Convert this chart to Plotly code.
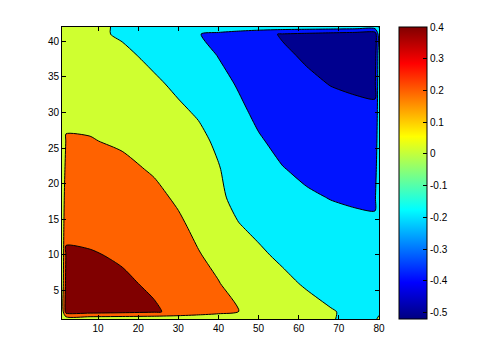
import plotly.graph_objects as go

# Grid coordinates
x_vals = [1, 2, 8, 16, 24, 30, 35, 40, 45, 50, 56, 62, 68, 74, 79, 80]
y_vals = [1, 2, 6, 10, 14, 18, 22, 26, 30, 34, 38, 41, 42]

# Field values, one row per y value
z_y1 = [0.02, 0.072, 0.07, 0.067, 0.062, 0.055, 0.047, 0.039, 0.03, 0.024, 0.016, 0.009, 0.001, -0.004, -0.008, 0.01]
z_y2 = [0.07, 0.48, 0.47, 0.445, 0.415, 0.366, 0.312, 0.257, 0.203, 0.16, 0.109, 0.059, 0.008, -0.025, -0.05, -0.01]
z_y6 = [0.07, 0.45, 0.44, 0.42, 0.38, 0.32, 0.261, 0.206, 0.14, 0.092, 0.036, -0.018, -0.047, -0.073, -0.092, -0.018]
z_y10 = [0.06, 0.415, 0.41, 0.385, 0.335, 0.273, 0.209, 0.155, 0.074, 0.024, -0.028, -0.072, -0.1, -0.12, -0.133, -0.027]
z_y14 = [0.055, 0.37, 0.36, 0.34, 0.285, 0.227, 0.164, 0.106, 0.008, -0.033, -0.083, -0.126, -0.152, -0.168, -0.175, -0.035]
z_y18 = [0.05, 0.315, 0.31, 0.29, 0.237, 0.179, 0.12, 0.03, -0.045, -0.084, -0.139, -0.18, -0.204, -0.217, -0.221, -0.044]
z_y22 = [0.04, 0.26, 0.255, 0.235, 0.185, 0.128, 0.077, 0.01, -0.081, -0.134, -0.194, -0.23, -0.254, -0.268, -0.272, -0.054]
z_y26 = [0.03, 0.21, 0.207, 0.18, 0.133, 0.078, 0.04, -0.03, -0.124, -0.185, -0.242, -0.278, -0.304, -0.319, -0.324, -0.065]
z_y30 = [0.025, 0.17, 0.165, 0.13, 0.08, 0.028, -0.016, -0.099, -0.168, -0.232, -0.288, -0.326, -0.355, -0.37, -0.375, -0.075]
z_y34 = [0.02, 0.13, 0.12, 0.085, 0.026, -0.031, -0.08, -0.152, -0.213, -0.279, -0.334, -0.375, -0.404, -0.419, -0.428, -0.086]
z_y38 = [0.015, 0.095, 0.075, 0.035, -0.04, -0.099, -0.145, -0.205, -0.264, -0.325, -0.38, -0.416, -0.44, -0.463, -0.48, -0.096]
z_y41 = [0.01, 0.07, 0.035, -0.02, -0.1, -0.15, -0.193, -0.247, -0.303, -0.36, -0.411, -0.44, -0.468, -0.496, -0.52, -0.104]
z_y42 = [0.01, 0.014, 0.007, -0.004, -0.02, -0.03, -0.039, -0.049, -0.061, -0.072, -0.082, -0.088, -0.094, -0.099, -0.104, 0.01]

z_rows = [z_y1, z_y2, z_y6, z_y10, z_y14, z_y18, z_y22, z_y26, z_y30, z_y34, z_y38, z_y41, z_y42]

# Contour levels and colour range
level_start, level_end, level_step = -0.4, 0.4, 0.2
c_min, c_max = -0.52, 0.4

# Colour bar ticks
cb_tickvals = [0.4, 0.3, 0.2, 0.1, 0, -0.1, -0.2, -0.3, -0.4, -0.5]
cb_ticktext = ["0.4", "0.3", "0.2", "0.1", "0", "-0.1", "-0.2", "-0.3", "-0.4", "-0.5"]
x_tickvals = [10, 20, 30, 40, 50, 60, 70, 80]
y_tickvals = [5, 10, 15, 20, 25, 30, 35, 40]

# Band colours (MATLAB jet, as filled by contourf)
band_colors = ["rgb(0,0,143)", "rgb(0,20,255)", "rgb(0,239,255)",
               "rgb(207,255,48)", "rgb(255,98,0)", "rgb(128,0,0)"]
band_scale = [[i / (len(band_colors) - 1), c] for i, c in enumerate(band_colors)]

jet_scale = [[0.0, "rgb(0,0,128)"], [0.125, "rgb(0,0,255)"], [0.375, "rgb(0,255,255)"],
             [0.625, "rgb(255,255,0)"], [0.875, "rgb(255,0,0)"], [1.0, "rgb(128,0,0)"]]

font = dict(family="Liberation Sans, Arial, sans-serif", size=10, color="black")

fig = go.Figure()
fig.add_trace(go.Contour(
    x=x_vals, y=y_vals, z=z_rows,
    autocontour=False,
    contours=dict(start=level_start, end=level_end, size=level_step,
                  coloring="fill", showlines=True),
    line=dict(color="black", width=1, smoothing=0.7),
    colorscale=band_scale,
    showscale=False,
    hoverinfo="skip",
))

# colour bar (continuous jet)
fig.add_trace(go.Scatter(
    x=[None, None], y=[None, None], mode="markers",
    marker=dict(color=[c_min, c_max], cmin=c_min, cmax=c_max, colorscale=jet_scale,
                showscale=True,
                colorbar=dict(x=1.063, xanchor="left", xpad=0, ypad=0,
                              y=0.5, yanchor="middle", len=1, lenmode="fraction",
                              thickness=28, thicknessmode="pixels",
                              outlinewidth=1, outlinecolor="black",
                              tickvals=cb_tickvals, ticktext=cb_ticktext,
                              ticks="inside", ticklen=4, tickcolor="black",
                              tickfont=font)),
    showlegend=False, hoverinfo="skip",
))

axis_common = dict(showgrid=False, zeroline=False, showline=True, linecolor="black",
                   linewidth=1, mirror="ticks", ticks="inside", ticklen=4,
                   tickcolor="black", tickfont=font, automargin=False)

# the page body adds an 8px offset, so margins are shifted to compensate
fig.update_layout(
    width=480, height=360, autosize=False,
    margin=dict(l=54, r=109, t=19, b=49, autoexpand=False),
    paper_bgcolor="white", plot_bgcolor="white",
    showlegend=False,
    xaxis=dict(range=[1, 80], tickvals=x_tickvals, **axis_common),
    yaxis=dict(range=[1, 42], tickvals=y_tickvals, **axis_common),
)

fig.write_html("out.html")
